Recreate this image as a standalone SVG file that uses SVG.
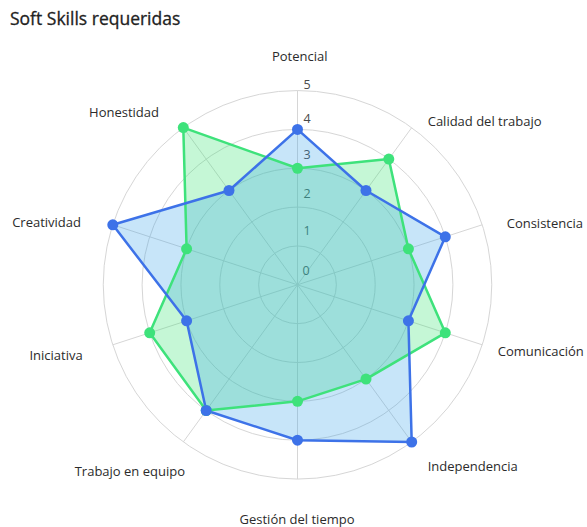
<svg xmlns="http://www.w3.org/2000/svg" width="587" height="527" viewBox="0 0 587 527">
<style>
.grid{fill:none;stroke:#d6d6d6;stroke-width:1}
.tick{font-family:"Open Sans","Noto Sans",sans-serif;font-size:12.5px;fill:#4a4a4a;text-anchor:middle}
.lbl{font-family:"Open Sans","Noto Sans",sans-serif;font-size:13px;fill:#2b2b2b}
.title{font-family:"Open Sans","Noto Sans",sans-serif;font-size:17.5px;fill:#222;stroke:#222;stroke-width:0.3}
.bfill{fill:rgb(54,162,235);fill-opacity:0.28;stroke:none}
.gfill{fill:rgb(46,226,106);fill-opacity:0.28;stroke:none}
.bline{fill:none;stroke:#3d72e8;stroke-width:2.5;stroke-linejoin:round}
.gline{fill:none;stroke:#3ee27b;stroke-width:2.5;stroke-linejoin:round}
.bpt{fill:#3d72e8}
.gpt{fill:#3ee27b}
</style>
<rect width="587" height="527" fill="#ffffff"/>
<text class="title" x="10" y="24.5">Soft Skills requeridas</text>
<g id="grid">
<circle class="grid" cx="297.5" cy="284.8" r="38.85"/>
<circle class="grid" cx="297.5" cy="284.8" r="77.7"/>
<circle class="grid" cx="297.5" cy="284.8" r="116.55"/>
<circle class="grid" cx="297.5" cy="284.8" r="155.4"/>
<circle class="grid" cx="297.5" cy="284.8" r="194.25"/>
<path class="grid" d="M297.5 284.8L297.5 90.55M297.5 284.8L411.68 127.65M297.5 284.8L482.25 224.78M297.5 284.8L482.25 344.82M297.5 284.8L411.68 441.95M297.5 284.8L297.5 479.05M297.5 284.8L183.32 441.95M297.5 284.8L112.75 344.82M297.5 284.8L112.75 224.78M297.5 284.8L183.32 127.65"/>
</g>
<g id="ticks">
<text class="tick" x="307" y="88.6">5</text>
<text class="tick" x="307" y="123.4">4</text>
<text class="tick" x="307" y="158.6">3</text>
<text class="tick" x="307" y="197.6">2</text>
<text class="tick" x="307" y="235">1</text>
<text class="tick" x="306" y="275">0</text>
</g>
<g id="fills">
<polygon class="gfill" points="297.5,168.25 388.8,159.1 408.4,248.8 445.3,332.8 366,379.1 297.5,401.35 206.2,410.5 149.7,332.8 186.6,248.8 183.3,127.6"/>
<polygon class="bfill" points="297.5,129.4 366,190.5 445.3,236.8 408.4,320.8 411.7,442 297.5,440.2 206.2,410.5 186.6,320.8 112.8,224.8 229,190.5"/>
</g>
<g id="connectors">
<polygon class="gline" points="297.5,168.25 388.8,159.1 408.4,248.8 445.3,332.8 366,379.1 297.5,401.35 206.2,410.5 149.7,332.8 186.6,248.8 183.3,127.6"/>
<polygon class="bline" points="297.5,129.4 366,190.5 445.3,236.8 408.4,320.8 411.7,442 297.5,440.2 206.2,410.5 186.6,320.8 112.8,224.8 229,190.5"/>
</g>
<g id="points-green">
<circle class="gpt" cx="297.5" cy="168.25" r="5.5"/>
<circle class="gpt" cx="388.8" cy="159.1" r="5.5"/>
<circle class="gpt" cx="408.4" cy="248.8" r="5.5"/>
<circle class="gpt" cx="445.3" cy="332.8" r="5.5"/>
<circle class="gpt" cx="366" cy="379.1" r="5.5"/>
<circle class="gpt" cx="297.5" cy="401.35" r="5.5"/>
<circle class="gpt" cx="206.2" cy="410.5" r="5.5"/>
<circle class="gpt" cx="149.7" cy="332.8" r="5.5"/>
<circle class="gpt" cx="186.6" cy="248.8" r="5.5"/>
<circle class="gpt" cx="183.3" cy="127.6" r="5.5"/>
</g>
<g id="points-blue">
<circle class="bpt" cx="297.5" cy="129.4" r="5.5"/>
<circle class="bpt" cx="366" cy="190.5" r="5.5"/>
<circle class="bpt" cx="445.3" cy="236.8" r="5.5"/>
<circle class="bpt" cx="408.4" cy="320.8" r="5.5"/>
<circle class="bpt" cx="411.7" cy="442" r="5.5"/>
<circle class="bpt" cx="297.5" cy="440.2" r="5.5"/>
<circle class="bpt" cx="206.2" cy="410.5" r="5.5"/>
<circle class="bpt" cx="186.6" cy="320.8" r="5.5"/>
<circle class="bpt" cx="112.8" cy="224.8" r="5.5"/>
<circle class="bpt" cx="229" cy="190.5" r="5.5"/>
</g>
<g id="label-potencial"><text class="lbl" x="299.7" y="61" text-anchor="middle">Potencial</text></g>
<g id="label-calidad"><text class="lbl" x="427.7" y="125.5">Calidad del trabajo</text></g>
<g id="label-consistencia"><text class="lbl" x="506.7" y="228">Consistencia</text></g>
<g id="label-comunicacion"><text class="lbl" x="497.7" y="356">Comunicación</text></g>
<g id="label-independencia"><text class="lbl" x="427.7" y="471">Independencia</text></g>
<g id="label-gestion"><text class="lbl" x="297" y="524" text-anchor="middle">Gestión del tiempo</text></g>
<g id="label-trabajo"><text class="lbl" x="185" y="476" text-anchor="end">Trabajo en equipo</text></g>
<g id="label-iniciativa"><text class="lbl" x="82.7" y="359.5" text-anchor="end">Iniciativa</text></g>
<g id="label-creatividad"><text class="lbl" x="81" y="227" text-anchor="end">Creatividad</text></g>
<g id="label-honestidad"><text class="lbl" x="159" y="116.5" text-anchor="end">Honestidad</text></g>
</svg>
